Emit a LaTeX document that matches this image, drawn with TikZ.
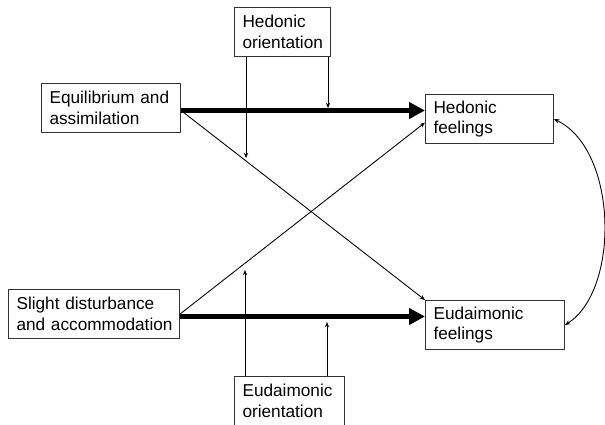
\documentclass[tikz,border=0pt]{standalone}
\usepackage{fontspec}
\setmainfont{Liberation Sans}
\usetikzlibrary{arrows.meta,calc}

\tikzset{
  box/.style={draw=black!80, line width=0.6pt, rectangle, anchor=north west,
    inner xsep=4.55pt, inner ysep=0pt, minimum height=0.98cm, align=left,
    font=\fontsize{9.8}{11.9}\selectfont},
  bigarrow/.style={line width=2.8pt, -{Triangle[length=9pt,width=9pt]}},
  smallarrow/.style={line width=0.5pt, -{Stealth[length=3pt,width=2.4pt]}},
  dblarrow/.style={line width=0.5pt, {Stealth[length=3pt,width=2.4pt]}-{Stealth[length=3pt,width=2.4pt]}}
}

\begin{document}
\begin{tikzpicture}[x=0.02cm, y=-0.02cm]
    \useasboundingbox (0,0) rectangle (605,424);
    % Boxes
    \node[box, minimum width=1.92cm, text width=1.60cm] (hedor) at (234,7) {Hedonic\\orientation};
    \node[box, minimum width=2.78cm, text width=2.46cm] (equil) at (41,83) {Equilibrium~and\\assimilation};
    \node[box, minimum width=2.56cm, text width=2.24cm] (hedfeel) at (425,94) {Hedonic\\feelings};
    \node[box, minimum width=3.42cm, text width=3.10cm] (slight) at (8,289) {Slight~disturbance\\and~\mbox{accommodation}};
    \node[box, minimum width=2.78cm, text width=2.46cm] (eudfeel) at (425,300) {Eudaimonic\\feelings};
    \node[box, minimum width=2.20cm, text width=1.88cm] (eudor) at (234,376) {Eudaimonic\\orientation};
    % Main paths
    \draw[bigarrow] ([yshift=-1.4pt]equil.east) -- ([yshift=-1.4pt]equil.east -| hedfeel.west);
    \draw[bigarrow] ([yshift=-1.4pt]slight.east) -- ([yshift=-1.4pt]slight.east -| eudfeel.west);
    % Cross paths
    \draw[smallarrow] ([yshift=-1.4pt]equil.east) -- (eudfeel.north west);
    \draw[smallarrow] (slight.east) -- ([yshift=-2pt]hedfeel.west);
    % Moderators
    \draw[smallarrow] ($(hedor.south west)+(12,0)$) -- ++(0,101);
    \draw[smallarrow] ($(hedor.south east)+(-3,0)$) -- ++(0,51);
    \draw[smallarrow] ($(eudor.north west)+(11,0)$) -- ++(0,-106);
    \draw[smallarrow] ($(eudor.north west)+(93,0)$) -- ++(0,-54);
    % Correlation
    \draw[dblarrow] (hedfeel.east) .. controls (618,150) and (620,290) .. (eudfeel.east);
\end{tikzpicture}
\end{document}
